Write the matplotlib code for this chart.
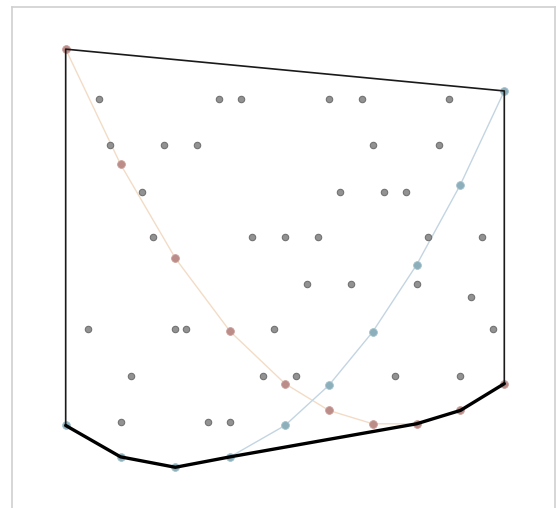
import matplotlib
matplotlib.use("Agg")
import matplotlib.pyplot as plt

# sample positions shared by both curves
x_samples = [0.0, 0.125, 0.25, 0.375, 0.5, 0.6, 0.7, 0.8, 0.9, 1.0]
# first curve (minimum on the right)
curve_a = [0.625, 0.453, 0.3125, 0.203, 0.125, 0.085, 0.065, 0.065, 0.085, 0.125]
# second curve (minimum on the left)
curve_b = [0.0625, 0.0156, 0.0, 0.0156, 0.0625, 0.1225, 0.2025, 0.3025, 0.4225, 0.5625]

# interior points, row by row
grid_x = [0.075, 0.35, 0.4, 0.6, 0.675, 0.875,
          0.1, 0.225, 0.3, 0.7, 0.85,
          0.175, 0.625, 0.725, 0.775,
          0.2, 0.425, 0.5, 0.575, 0.825, 0.95,
          0.55, 0.65, 0.8, 0.925,
          0.05, 0.25, 0.275, 0.475, 0.975,
          0.15, 0.45, 0.525, 0.75, 0.9,
          0.125, 0.325, 0.375]
grid_y = [0.550] * 6 + [0.481] * 5 + [0.412] * 4 + [0.344] * 6 + \
         [0.274] * 3 + [0.254] + [0.206] * 5 + [0.137] * 5 + [0.068] * 3

# lower hull vertices (thick) and the remaining sides (thin)
lower_x = [0.0, 0.125, 0.25, 0.375, 0.8, 0.9, 1.0]
lower_y = [0.0625, 0.0156, 0.0, 0.0156, 0.065, 0.085, 0.125]
upper_x = [0.0, 0.0, 1.0, 1.0]
upper_y = [0.0625, 0.625, 0.5625, 0.125]

W, H = 557, 508
fig = plt.figure(figsize=(W / 100, H / 100), dpi=100)
ax = fig.add_axes([12 / W, -12 / H, (555 - 12) / W, (520 - 7) / H])
ax.set_xlim(-0.1224, 1.1156)
ax.set_ylim(-0.0788, 0.688)
ax.set_xticks([]); ax.set_yticks([])
for s in ax.spines.values():
    s.set_color('#d0d0d0'); s.set_linewidth(1.2)

# curves
ax.plot(x_samples, curve_a, '-', color='#f3dcc6', lw=1.0, zorder=1)
ax.plot(x_samples, curve_b, '-', color='#c3d5e2', lw=1.0, zorder=1)

# interior points
ax.plot(grid_x, grid_y, 'o', ms=4.6, mfc='#929292', mec='#727272', mew=0.8, zorder=2)

# curve samples
ax.plot(x_samples, curve_a, 'o', ms=5.6, mfc='#bb8c88', mec='#c9a09c', mew=0.6, zorder=3)
ax.plot(x_samples, curve_b, 'o', ms=5.6, mfc='#8cafbb', mec='#a3c2cc', mew=0.6, zorder=3)

# hull
ax.plot(upper_x, upper_y, '-', color='#1a1a1a', lw=1.2, zorder=4)
ax.plot(lower_x, lower_y, '-', color='black', lw=2.4, zorder=5, solid_capstyle='round')

fig.savefig('out.png', dpi=100)
